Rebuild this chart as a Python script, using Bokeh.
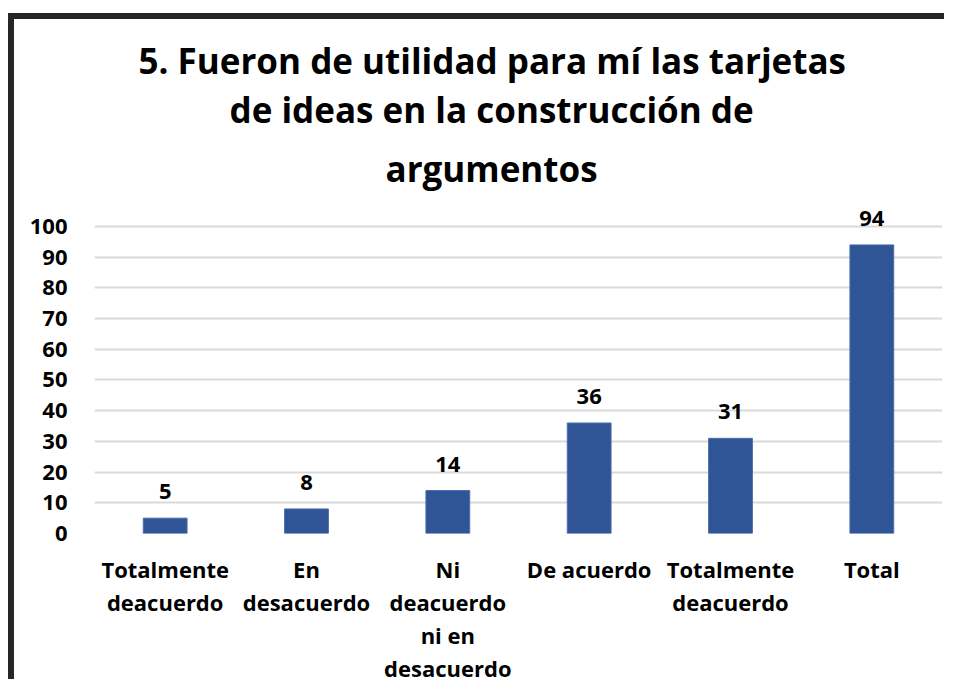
from bokeh.plotting import figure
from bokeh.models import ColumnDataSource, FixedTicker, Range1d, LabelSet, Title
from bokeh.core.properties import value
from bokeh.embed import file_html
from bokeh.resources import INLINE

categories = ["Totalmente deacuerdo", "En desacuerdo", "Ni deacuerdo ni en desacuerdo",
              "De acuerdo", "Totalmente deacuerdo", "Total"]
tick_labels = ["Totalmente\ndeacuerdo", "En\ndesacuerdo", "Ni\ndeacuerdo\nni en\ndesacuerdo",
               "De acuerdo", "Totalmente\ndeacuerdo", "Total"]
values = [5, 8, 14, 36, 31, 94]
y_ticks = [0, 10, 20, 30, 40, 50, 60, 70, 80, 90, 100]
title_lines = ["5. Fueron de utilidad para mí las tarjetas",
               "de ideas en la construcción de",
               "argumentos"]

# layout (styles): left offset of each title line from the plot frame, and standoffs
title_offsets = [44, 135, 291]
title_standoffs = [0, 0, 20]

xs = list(range(1, len(categories) + 1))
src = ColumnDataSource(dict(x=xs, top=values, label=[str(v) for v in values], cat=categories))

FONT = "Open Sans"

p = figure(width=936, height=666, output_backend="svg", toolbar_location=None,
           x_range=Range1d(0.5, len(categories) + 0.5), y_range=Range1d(0, 108.14),
           min_border_left=80, min_border_right=8, min_border_top=182, min_border_bottom=152)
p.styles = {"transform": "translate(14px, 19px)",
            "box-shadow": "-6px -6px 0 0 #262626"}
p.outline_line_color = None
p.background_fill_color = "white"
p.border_fill_color = "white"

# title lines, nearest to the frame first
for line, off, so in reversed(list(zip(title_lines, title_offsets, title_standoffs))):
    t = Title(text=line, align="left", text_font=FONT, text_font_size="35px",
              text_font_style="bold", text_color="black", offset=off, standoff=so)
    p.add_layout(t, "above")

p.vbar(x="x", top="top", width=0.31, source=src, fill_color="#2F5597",
       line_color="#4a6fb0", line_width=1)

labels = LabelSet(x="x", y="top", text="label", source=src, text_align="center",
                  text_baseline="alphabetic", y_offset=19, text_font=value(FONT),
                  text_font_size="22px", text_font_style="bold", text_color="black")
p.add_layout(labels)

p.xgrid.grid_line_color = None
p.ygrid.grid_line_color = "#d9d9d9"
p.ygrid.grid_line_width = 2
p.ygrid.ticker = FixedTicker(ticks=y_ticks)

p.yaxis.ticker = FixedTicker(ticks=y_ticks)
p.yaxis.axis_line_color = None
p.yaxis.major_tick_line_color = None
p.yaxis.minor_tick_line_color = None
p.yaxis.major_label_standoff = 21
p.yaxis.major_label_text_font = FONT
p.yaxis.major_label_text_font_size = "22px"
p.yaxis.major_label_text_font_style = "bold"
p.yaxis.major_label_text_color = "black"

p.xaxis.ticker = FixedTicker(ticks=xs)
p.xaxis.major_label_overrides = {x: t for x, t in zip(xs, tick_labels)}
p.xaxis.axis_line_color = None
p.xaxis.major_tick_line_color = None
p.xaxis.minor_tick_line_color = None
p.xaxis.major_label_standoff = 14
p.xaxis.major_label_text_font = FONT
p.xaxis.major_label_text_font_size = "22px"
p.xaxis.major_label_text_font_style = "bold"
p.xaxis.major_label_text_color = "black"
p.xaxis.major_label_text_line_height = 1.1
p.xaxis.major_label_text_align = "center"

open("out.html", "w").write(file_html(p, INLINE))
